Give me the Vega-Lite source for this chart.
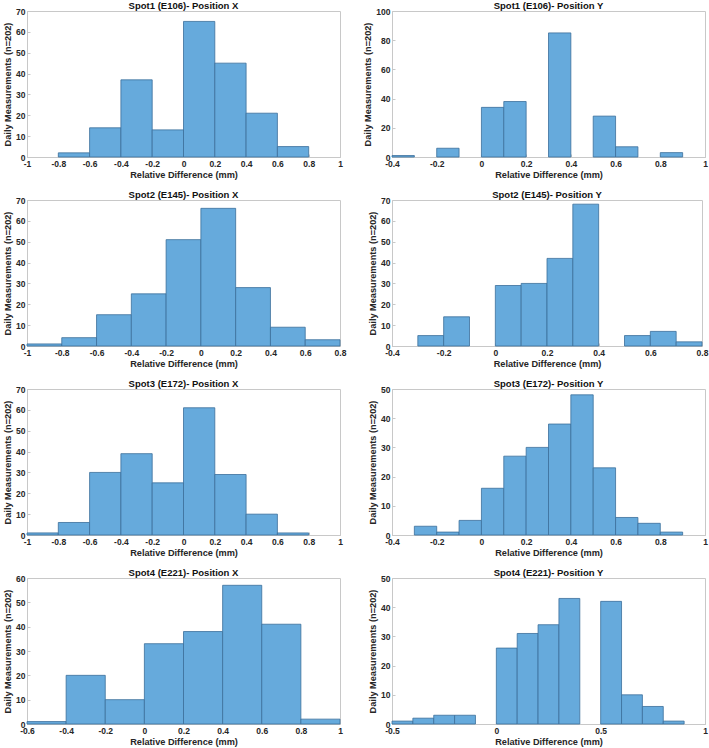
{
  "$schema": "https://vega.github.io/schema/vega-lite/v6.json",
  "padding": {"left": 3, "top": 0, "right": 0, "bottom": 0},
  "background": "white",
  "datasets": {
    "h": [
      {"p": 1, "lo": -0.8, "hi": -0.6, "n": 2},
      {"p": 1, "lo": -0.6, "hi": -0.4, "n": 14},
      {"p": 1, "lo": -0.4, "hi": -0.2, "n": 37},
      {"p": 1, "lo": -0.2, "hi": 0, "n": 13},
      {"p": 1, "lo": 0, "hi": 0.2, "n": 65},
      {"p": 1, "lo": 0.2, "hi": 0.4, "n": 45},
      {"p": 1, "lo": 0.4, "hi": 0.6, "n": 21},
      {"p": 1, "lo": 0.6, "hi": 0.8, "n": 5},
      {"p": 2, "lo": -0.4, "hi": -0.3, "n": 1},
      {"p": 2, "lo": -0.2, "hi": -0.1, "n": 6},
      {"p": 2, "lo": 0, "hi": 0.1, "n": 34},
      {"p": 2, "lo": 0.1, "hi": 0.2, "n": 38},
      {"p": 2, "lo": 0.3, "hi": 0.4, "n": 85},
      {"p": 2, "lo": 0.5, "hi": 0.6, "n": 28},
      {"p": 2, "lo": 0.6, "hi": 0.7, "n": 7},
      {"p": 2, "lo": 0.8, "hi": 0.9, "n": 3},
      {"p": 3, "lo": -1, "hi": -0.8, "n": 1},
      {"p": 3, "lo": -0.8, "hi": -0.6, "n": 4},
      {"p": 3, "lo": -0.6, "hi": -0.4, "n": 15},
      {"p": 3, "lo": -0.4, "hi": -0.2, "n": 25},
      {"p": 3, "lo": -0.2, "hi": 0, "n": 51},
      {"p": 3, "lo": 0, "hi": 0.2, "n": 66},
      {"p": 3, "lo": 0.2, "hi": 0.4, "n": 28},
      {"p": 3, "lo": 0.4, "hi": 0.6, "n": 9},
      {"p": 3, "lo": 0.6, "hi": 0.8, "n": 3},
      {"p": 4, "lo": -0.3, "hi": -0.2, "n": 5},
      {"p": 4, "lo": -0.2, "hi": -0.1, "n": 14},
      {"p": 4, "lo": 0, "hi": 0.1, "n": 29},
      {"p": 4, "lo": 0.1, "hi": 0.2, "n": 30},
      {"p": 4, "lo": 0.2, "hi": 0.3, "n": 42},
      {"p": 4, "lo": 0.3, "hi": 0.4, "n": 68},
      {"p": 4, "lo": 0.5, "hi": 0.6, "n": 5},
      {"p": 4, "lo": 0.6, "hi": 0.7, "n": 7},
      {"p": 4, "lo": 0.7, "hi": 0.8, "n": 2},
      {"p": 5, "lo": -1, "hi": -0.8, "n": 1},
      {"p": 5, "lo": -0.8, "hi": -0.6, "n": 6},
      {"p": 5, "lo": -0.6, "hi": -0.4, "n": 30},
      {"p": 5, "lo": -0.4, "hi": -0.2, "n": 39},
      {"p": 5, "lo": -0.2, "hi": 0, "n": 25},
      {"p": 5, "lo": 0, "hi": 0.2, "n": 61},
      {"p": 5, "lo": 0.2, "hi": 0.4, "n": 29},
      {"p": 5, "lo": 0.4, "hi": 0.6, "n": 10},
      {"p": 5, "lo": 0.6, "hi": 0.8, "n": 1},
      {"p": 6, "lo": -0.3, "hi": -0.2, "n": 3},
      {"p": 6, "lo": -0.2, "hi": -0.1, "n": 1},
      {"p": 6, "lo": -0.1, "hi": 0, "n": 5},
      {"p": 6, "lo": 0, "hi": 0.1, "n": 16},
      {"p": 6, "lo": 0.1, "hi": 0.2, "n": 27},
      {"p": 6, "lo": 0.2, "hi": 0.3, "n": 30},
      {"p": 6, "lo": 0.3, "hi": 0.4, "n": 38},
      {"p": 6, "lo": 0.4, "hi": 0.5, "n": 48},
      {"p": 6, "lo": 0.5, "hi": 0.6, "n": 23},
      {"p": 6, "lo": 0.6, "hi": 0.7, "n": 6},
      {"p": 6, "lo": 0.7, "hi": 0.8, "n": 4},
      {"p": 6, "lo": 0.8, "hi": 0.9, "n": 1},
      {"p": 7, "lo": -0.6, "hi": -0.4, "n": 1},
      {"p": 7, "lo": -0.4, "hi": -0.2, "n": 20},
      {"p": 7, "lo": -0.2, "hi": 0, "n": 10},
      {"p": 7, "lo": 0, "hi": 0.2, "n": 33},
      {"p": 7, "lo": 0.2, "hi": 0.4, "n": 38},
      {"p": 7, "lo": 0.4, "hi": 0.6, "n": 57},
      {"p": 7, "lo": 0.6, "hi": 0.8, "n": 41},
      {"p": 7, "lo": 0.8, "hi": 1, "n": 2},
      {"p": 8, "lo": -0.5, "hi": -0.4, "n": 1},
      {"p": 8, "lo": -0.4, "hi": -0.3, "n": 2},
      {"p": 8, "lo": -0.3, "hi": -0.2, "n": 3},
      {"p": 8, "lo": -0.2, "hi": -0.1, "n": 3},
      {"p": 8, "lo": 0, "hi": 0.1, "n": 26},
      {"p": 8, "lo": 0.1, "hi": 0.2, "n": 31},
      {"p": 8, "lo": 0.2, "hi": 0.3, "n": 34},
      {"p": 8, "lo": 0.3, "hi": 0.4, "n": 43},
      {"p": 8, "lo": 0.5, "hi": 0.6, "n": 42},
      {"p": 8, "lo": 0.6, "hi": 0.7, "n": 10},
      {"p": 8, "lo": 0.7, "hi": 0.8, "n": 6},
      {"p": 8, "lo": 0.8, "hi": 0.9, "n": 1}
    ]
  },
  "data": {"name": "h"},
  "columns": 2,
  "spacing": {"row": 8, "column": 16},
  "concat": [
    {
      "title": "Spot1 (E106)- Position X",
      "width": 313, "height": 146,
      "transform": [{"filter": "datum.p == 1"}],
      "mark": {"type": "rect", "fill": "#66aadc", "stroke": "#3b6f9b", "strokeWidth": 0.8},
      "encoding": {
        "x": {"field": "lo", "type": "quantitative", "scale": {"domain": [-1, 1], "nice": false, "zero": false}, "axis": {"values": [-1, -0.8, -0.6, -0.4, -0.2, 0, 0.2, 0.4, 0.6, 0.8, 1], "title": "Relative Difference (mm)"}},
        "x2": {"field": "hi"},
        "y": {"field": "n", "type": "quantitative", "scale": {"domain": [0, 70], "nice": false}, "axis": {"values": [0, 10, 20, 30, 40, 50, 60, 70], "title": "Daily Measurements (n=202)"}},
        "y2": {"datum": 0}
      }
    },
    {
      "title": "Spot1 (E106)- Position Y",
      "width": 313, "height": 146,
      "transform": [{"filter": "datum.p == 2"}],
      "mark": {"type": "rect", "fill": "#66aadc", "stroke": "#3b6f9b", "strokeWidth": 0.8},
      "encoding": {
        "x": {"field": "lo", "type": "quantitative", "scale": {"domain": [-0.4, 1], "nice": false, "zero": false}, "axis": {"values": [-0.4, -0.2, 0, 0.2, 0.4, 0.6, 0.8, 1], "title": "Relative Difference (mm)"}},
        "x2": {"field": "hi"},
        "y": {"field": "n", "type": "quantitative", "scale": {"domain": [0, 100], "nice": false}, "axis": {"values": [0, 20, 40, 60, 80, 100], "title": "Daily Measurements (n=202)"}},
        "y2": {"datum": 0}
      }
    },
    {
      "title": "Spot2 (E145)- Position X",
      "width": 313, "height": 146,
      "transform": [{"filter": "datum.p == 3"}],
      "mark": {"type": "rect", "fill": "#66aadc", "stroke": "#3b6f9b", "strokeWidth": 0.8},
      "encoding": {
        "x": {"field": "lo", "type": "quantitative", "scale": {"domain": [-1, 0.8], "nice": false, "zero": false}, "axis": {"values": [-1, -0.8, -0.6, -0.4, -0.2, 0, 0.2, 0.4, 0.6, 0.8], "title": "Relative Difference (mm)"}},
        "x2": {"field": "hi"},
        "y": {"field": "n", "type": "quantitative", "scale": {"domain": [0, 70], "nice": false}, "axis": {"values": [0, 10, 20, 30, 40, 50, 60, 70], "title": "Daily Measurements (n=202)"}},
        "y2": {"datum": 0}
      }
    },
    {
      "title": "Spot2 (E145)- Position Y",
      "width": 310, "height": 146,
      "transform": [{"filter": "datum.p == 4"}],
      "mark": {"type": "rect", "fill": "#66aadc", "stroke": "#3b6f9b", "strokeWidth": 0.8},
      "encoding": {
        "x": {"field": "lo", "type": "quantitative", "scale": {"domain": [-0.4, 0.8], "nice": false, "zero": false}, "axis": {"values": [-0.4, -0.2, 0, 0.2, 0.4, 0.6, 0.8], "title": "Relative Difference (mm)"}},
        "x2": {"field": "hi"},
        "y": {"field": "n", "type": "quantitative", "scale": {"domain": [0, 70], "nice": false}, "axis": {"values": [0, 10, 20, 30, 40, 50, 60, 70], "title": "Daily Measurements (n=202)"}},
        "y2": {"datum": 0}
      }
    },
    {
      "title": "Spot3 (E172)- Position X",
      "width": 313, "height": 146,
      "transform": [{"filter": "datum.p == 5"}],
      "mark": {"type": "rect", "fill": "#66aadc", "stroke": "#3b6f9b", "strokeWidth": 0.8},
      "encoding": {
        "x": {"field": "lo", "type": "quantitative", "scale": {"domain": [-1, 1], "nice": false, "zero": false}, "axis": {"values": [-1, -0.8, -0.6, -0.4, -0.2, 0, 0.2, 0.4, 0.6, 0.8, 1], "title": "Relative Difference (mm)"}},
        "x2": {"field": "hi"},
        "y": {"field": "n", "type": "quantitative", "scale": {"domain": [0, 70], "nice": false}, "axis": {"values": [0, 10, 20, 30, 40, 50, 60, 70], "title": "Daily Measurements (n=202)"}},
        "y2": {"datum": 0}
      }
    },
    {
      "title": "Spot3 (E172)- Position Y",
      "width": 313, "height": 146,
      "transform": [{"filter": "datum.p == 6"}],
      "mark": {"type": "rect", "fill": "#66aadc", "stroke": "#3b6f9b", "strokeWidth": 0.8},
      "encoding": {
        "x": {"field": "lo", "type": "quantitative", "scale": {"domain": [-0.4, 1], "nice": false, "zero": false}, "axis": {"values": [-0.4, -0.2, 0, 0.2, 0.4, 0.6, 0.8, 1], "title": "Relative Difference (mm)"}},
        "x2": {"field": "hi"},
        "y": {"field": "n", "type": "quantitative", "scale": {"domain": [0, 50], "nice": false}, "axis": {"values": [0, 10, 20, 30, 40, 50], "title": "Daily Measurements (n=202)"}},
        "y2": {"datum": 0}
      }
    },
    {
      "title": "Spot4 (E221)- Position X",
      "width": 313, "height": 146,
      "transform": [{"filter": "datum.p == 7"}],
      "mark": {"type": "rect", "fill": "#66aadc", "stroke": "#3b6f9b", "strokeWidth": 0.8},
      "encoding": {
        "x": {"field": "lo", "type": "quantitative", "scale": {"domain": [-0.6, 1], "nice": false, "zero": false}, "axis": {"values": [-0.6, -0.4, -0.2, 0, 0.2, 0.4, 0.6, 0.8, 1], "title": "Relative Difference (mm)"}},
        "x2": {"field": "hi"},
        "y": {"field": "n", "type": "quantitative", "scale": {"domain": [0, 60], "nice": false}, "axis": {"values": [0, 10, 20, 30, 40, 50, 60], "title": "Daily Measurements (n=202)"}},
        "y2": {"datum": 0}
      }
    },
    {
      "title": "Spot4 (E221)- Position Y",
      "width": 313, "height": 146,
      "transform": [{"filter": "datum.p == 8"}],
      "mark": {"type": "rect", "fill": "#66aadc", "stroke": "#3b6f9b", "strokeWidth": 0.8},
      "encoding": {
        "x": {"field": "lo", "type": "quantitative", "scale": {"domain": [-0.5, 1], "nice": false, "zero": false}, "axis": {"values": [-0.5, 0, 0.5, 1], "title": "Relative Difference (mm)"}},
        "x2": {"field": "hi"},
        "y": {"field": "n", "type": "quantitative", "scale": {"domain": [0, 50], "nice": false}, "axis": {"values": [0, 10, 20, 30, 40, 50], "title": "Daily Measurements (n=202)"}},
        "y2": {"datum": 0}
      }
    }
  ],
  "config": {
    "view": {"stroke": "#c8c8c8", "strokeWidth": 1},
    "title": {"font": "Liberation Sans", "fontSize": 9.5, "fontWeight": "bold", "color": "#111111", "offset": -3, "anchor": "middle"},
    "axis": {
      "grid": false,
      "labelExpr": "'' + datum.value",
      "labelFont": "Liberation Sans",
      "labelFontSize": 8.5,
      "labelFontWeight": "bold",
      "labelColor": "#262626",
      "labelPadding": 5,
      "titleFont": "Liberation Sans",
      "titleFontSize": 9.2,
      "titleFontWeight": "bold",
      "titleColor": "#262626",
      "titlePadding": 3,
      "domainColor": "#c8c8c8",
      "tickColor": "#c8c8c8",
      "tickSize": -3,
      "labelFlush": false,
      "labelOverlap": false
    }
  }
}
